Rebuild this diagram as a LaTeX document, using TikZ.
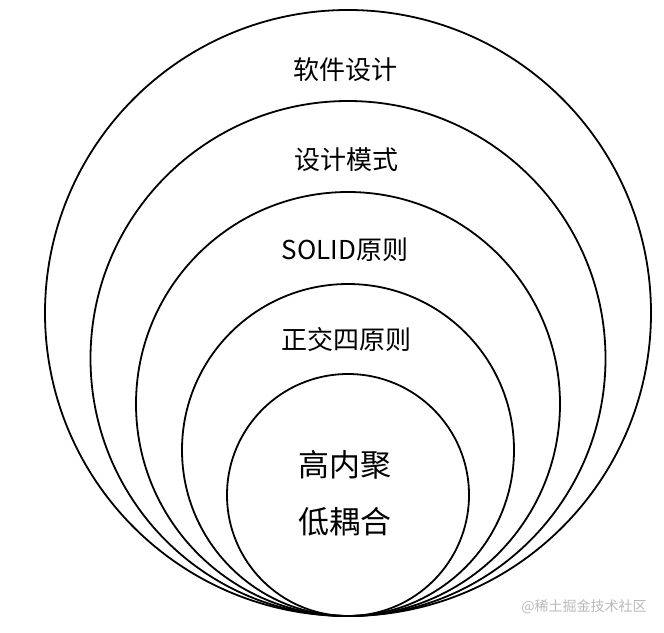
\documentclass[tikz,border=0pt]{standalone}
\usepackage{fontspec}
\newfontfamily\cjk{Noto Sans CJK SC}
\begin{document}
\begin{tikzpicture}[x=1pt,y=-1pt,
  ring/.style={draw,circle,line width=1.8pt,inner sep=0pt},
  lbl/.style={font=\cjk\fontsize{26}{30}\selectfont},
  core/.style={font=\cjk\fontsize{31}{36}\selectfont}]
\useasboundingbox (0,0) rectangle (664,632);
% nested circles, all touching at the bottom
\node[ring,minimum size=606pt](R1) at (348,313){};
\node[ring,minimum size=515pt](R2) at (348,358.5){};
\node[ring,minimum size=424pt](R3) at (348,404){};
\node[ring,minimum size=332pt](R4) at (348,450){};
\node[ring,minimum size=242pt](R5) at (348,495){};

\node[lbl](L1) at (345,70){软件设计};
\node[lbl](L2) at (346,160){设计模式};
\node[lbl](L3) at (345,250){SOLID原则};
\node[lbl](L4) at (346,340){正交四原则};
\node[core](L5) at (345,465){高内聚};
\node[core](L6) at (345,522){低耦合};

\node[font=\cjk\fontsize{14}{16}\selectfont,text=gray!55](W) at (584,607){@稀土掘金技术社区};
\end{tikzpicture}
\end{document}
